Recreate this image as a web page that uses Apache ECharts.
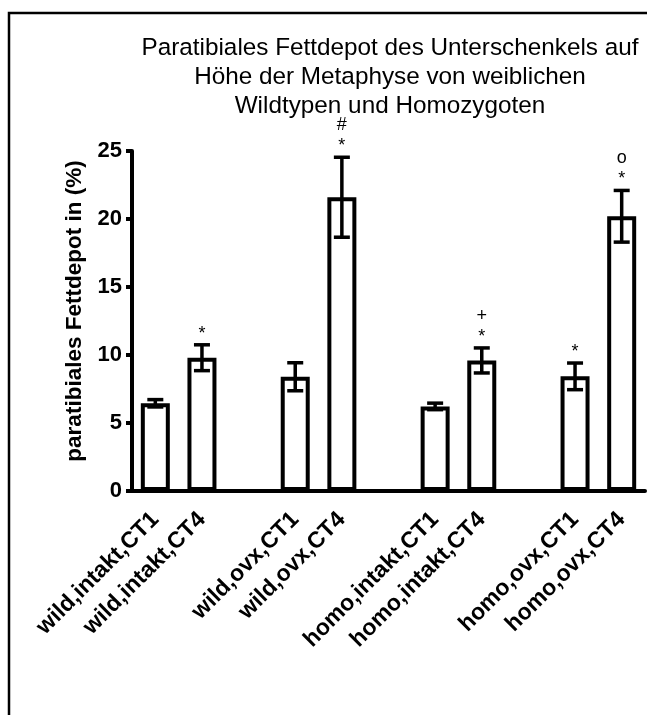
<!DOCTYPE html>
<html>
<head>
<meta charset="utf-8">
<script src="https://cdn.jsdelivr.net/npm/echarts@6/dist/echarts.min.js"></script>
<style>
  html, body { margin: 0; padding: 0; background: #fff; }
  #chart { width: 647px; height: 715px; }
</style>
</head>
<body>
<div id="chart"></div>
<script>
// Groups (empty strings are spacer slots between groups)
const categories = [
  'wild,intakt,CT1', 'wild,intakt,CT4', '',
  'wild,ovx,CT1', 'wild,ovx,CT4', '',
  'homo,intakt,CT1', 'homo,intakt,CT4', '',
  'homo,ovx,CT1', 'homo,ovx,CT4'
];
// Mean paratibial fat depot (%) and standard error
const means = [6.45, 9.8, null, 8.4, 21.6, null, 6.22, 9.6, null, 8.43, 20.2];
const sems  = [0.27, 0.95, null, 1.03, 2.94, null, 0.24, 0.92, null, 0.98, 1.9];
// Significance markers: first row directly above the error bar, second row above that
const marksNear = ['', '*', '', '', '*', '', '', '*', '', '*', '*'];
const marksFar  = ['', '', '', '', '#', '', '', '+', '', '', 'o'];
const yTicks = [0, 5, 10, 15, 20, 25];

const FONT = '"Liberation Sans", Arial, sans-serif';

const barData = means.map(v => (v == null ? '-' : v));
const errData = [];
means.forEach((m, i) => { if (m != null) errData.push([i, m, sems[i]]); });

const chart = echarts.init(document.getElementById('chart'), null, { renderer: 'canvas' });

function renderError(params, api) {
  const i = api.value(0);
  const m = api.value(1);
  const s = api.value(2);
  const top = api.coord([i, m + s]);
  const bot = api.coord([i, m - s]);
  const x = top[0];
  const hw = 8;
  const lineStyle = { stroke: '#000', lineWidth: 3.5 };
  const children = [
    { type: 'line', shape: { x1: x, y1: top[1], x2: x, y2: bot[1] }, style: lineStyle },
    { type: 'line', shape: { x1: x - hw, y1: top[1], x2: x + hw, y2: top[1] }, style: lineStyle },
    { type: 'line', shape: { x1: x - hw, y1: bot[1], x2: x + hw, y2: bot[1] }, style: lineStyle }
  ];
  if (marksNear[i]) {
    children.push({
      type: 'text',
      style: { text: marksNear[i], x: x, y: top[1] - 11, align: 'center', verticalAlign: 'middle',
               font: '18px ' + FONT, fill: '#000' }
    });
  }
  if (marksFar[i]) {
    children.push({
      type: 'text',
      style: { text: marksFar[i], x: x, y: top[1] - 32, align: 'center', verticalAlign: 'middle',
               font: '18px ' + FONT, fill: '#000' }
    });
  }
  return { type: 'group', children: children };
}

const option = {
  backgroundColor: '#fff',
  animation: false,
  title: {
    text: 'Paratibiales Fettdepot des Unterschenkels auf\nHöhe der Metaphyse von weiblichen\nWildtypen und Homozygoten',
    left: 385,
    top: 29,
    textAlign: 'center',
    textStyle: { fontFamily: FONT, fontWeight: 'normal', fontSize: 24.3, lineHeight: 29, color: '#000' }
  },
  grid: { left: 132, right: 2, top: 151, bottom: 224, containLabel: false },
  xAxis: {
    type: 'category',
    data: categories,
    boundaryGap: true,
    axisLine: { lineStyle: { color: '#000', width: 4 } },
    axisTick: { alignWithLabel: true, interval: 0, length: 6, lineStyle: { color: '#000', width: 4 } },
    axisLabel: {
      interval: 0, rotate: 45, margin: 25,
      fontFamily: FONT, fontWeight: 'bold', fontSize: 23, color: '#000'
    }
  },
  yAxis: {
    type: 'value',
    min: yTicks[0],
    max: yTicks[yTicks.length - 1],
    interval: 5,
    name: 'paratibiales Fettdepot in (%)',
    nameLocation: 'middle',
    nameRotate: 90,
    nameGap: 43,
    nameTextStyle: { fontFamily: FONT, fontWeight: 'bold', fontSize: 22.5, color: '#000', padding: [0, 0, 0, 20] },
    axisLine: { show: true, lineStyle: { color: '#000', width: 4 } },
    axisTick: { show: true, length: 6, lineStyle: { color: '#000', width: 4 } },
    axisLabel: { margin: 10, fontFamily: FONT, fontWeight: 'bold', fontSize: 22, color: '#000' },
    splitLine: { show: false }
  },
  graphic: [{
    type: 'polyline',
    shape: { points: [[9, 715], [9, 13], [647, 13]] },
    style: { stroke: '#000', lineWidth: 2.5, fill: null },
    silent: true
  }],
  series: [
    {
      type: 'bar',
      data: barData,
      barWidth: 29,
      itemStyle: { color: '#fff', borderColor: '#000', borderWidth: 4 },
      z: 2
    },
    {
      type: 'custom',
      data: errData,
      renderItem: renderError,
      clip: false,
      z: 3
    }
  ]
};

chart.setOption(option);
</script>
</body>
</html>
